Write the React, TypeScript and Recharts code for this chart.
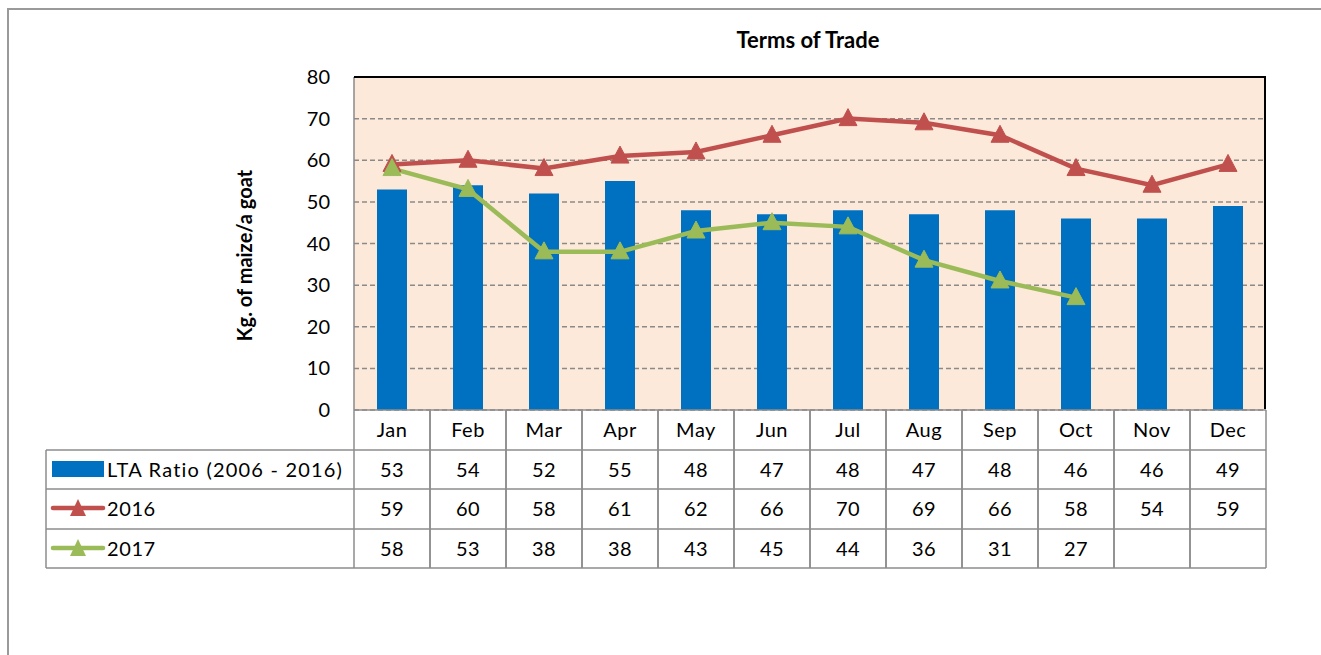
import React from 'react';
import { ComposedChart, Bar, Line, XAxis, YAxis, CartesianGrid } from 'recharts';

const months = ['Jan', 'Feb', 'Mar', 'Apr', 'May', 'Jun', 'Jul', 'Aug', 'Sep', 'Oct', 'Nov', 'Dec'];
const lta = [53, 54, 52, 55, 48, 47, 48, 47, 48, 46, 46, 49];
const y2016 = [59, 60, 58, 61, 62, 66, 70, 69, 66, 58, 54, 59];
const y2017: (number | null)[] = [58, 53, 38, 38, 43, 45, 44, 36, 31, 27, null, null];
const yTicks = [0, 10, 20, 30, 40, 50, 60, 70, 80];

const seriesNames = ['LTA Ratio (2006 - 2016)', '2016', '2017'];
const BLUE = '#0070C0';
const RED = '#C0504D';
const GREEN = '#9BBB59';
const FONT = 'Lato, "Open Sans", sans-serif';

const data = months.map((m, i) => ({ month: m, lta: lta[i], y2016: y2016[i], y2017: y2017[i] }));

const W = 1321;
const H = 655;
const PLOT_L = 354;
const PLOT_R = 1266;
const PLOT_T = 77;
const PLOT_B = 410;
const COL_W = (PLOT_R - PLOT_L) / months.length;
const LEG_L = 46;
const ROWS = [410, 450, 489, 529, 568];
const GRID = '#8c8c8c';
const TXT = 20;

const Triangle = (color: string) => (props: any) => {
  const { cx, cy, value } = props;
  if (value == null || cx == null || cy == null) return <g key={props.key} />;
  return (
    <path key={props.key} d={`M${cx},${cy - 10} L${cx + 9},${cy + 7} L${cx - 9},${cy + 7} Z`} fill={color} stroke={color} />
  );
};

const TableTick = (props: any) => {
  const { x, y, payload } = props;
  const i = payload.index;
  const left = x - COL_W / 2;
  const right = x + COL_W / 2;
  const rowMid = (r: number) => (ROWS[r] + ROWS[r + 1]) / 2 + 7;
  const vals = [lta[i], y2016[i], y2017[i]];
  const top = y;
  return (
    <g>
      <line x1={left} x2={left} y1={top} y2={ROWS[4]} stroke={GRID} strokeWidth={1.5} />
      <line x1={right} x2={right} y1={top} y2={ROWS[4]} stroke={GRID} strokeWidth={1.5} />
      {ROWS.map((r, k) => (
        <line key={k} x1={left} x2={right} y1={k === 0 ? top : r} y2={k === 0 ? top : r} stroke={GRID} strokeWidth={1.5} />
      ))}
      <text x={x} y={rowMid(0)} textAnchor="middle" fontSize={TXT} fontFamily={FONT} fill="#000" letterSpacing={0.5}>{payload.value}</text>
      {vals.map((v, k) => (
        <text key={k} x={x} y={rowMid(k + 1)} textAnchor="middle" fontSize={TXT} fontFamily={FONT} fill="#000" letterSpacing={0.5}>
          {v == null ? '' : v}
        </text>
      ))}
      {i === 0 && (
        <g>
          <line x1={LEG_L} x2={left} y1={ROWS[1]} y2={ROWS[1]} stroke={GRID} strokeWidth={1.5} />
          <line x1={LEG_L} x2={left} y1={ROWS[2]} y2={ROWS[2]} stroke={GRID} strokeWidth={1.5} />
          <line x1={LEG_L} x2={left} y1={ROWS[3]} y2={ROWS[3]} stroke={GRID} strokeWidth={1.5} />
          <line x1={LEG_L} x2={left} y1={ROWS[4]} y2={ROWS[4]} stroke={GRID} strokeWidth={1.5} />
          <line x1={LEG_L} x2={LEG_L} y1={ROWS[1]} y2={ROWS[4]} stroke={GRID} strokeWidth={1.5} />
          <rect x={52} y={461} width={52} height={16} fill={BLUE} />
          <line x1={53} x2={103} y1={508} y2={508} stroke={RED} strokeWidth={4.5} strokeLinecap="round" />
          <path d={`M78,499 L86,516 L70,516 Z`} fill={RED} />
          <line x1={53} x2={103} y1={548} y2={548} stroke={GREEN} strokeWidth={4.5} strokeLinecap="round" />
          <path d={`M78,539 L86,556 L70,556 Z`} fill={GREEN} />
          {seriesNames.map((s, k) => (
            <text key={k} x={107} y={rowMid(k + 1)} fontSize={TXT} fontFamily={FONT} fill="#000" letterSpacing={k === 0 ? 1.2 : 0.6}>{s}</text>
          ))}
        </g>
      )}
    </g>
  );
};

const LABEL_CY = PLOT_T + (PLOT_B - PLOT_T) / 2 + 12;
const YLabel = () => (
  <text
    x={252}
    y={LABEL_CY}
    transform={`rotate(-90, 252, ${LABEL_CY})`}
    textAnchor="middle"
    fontSize={20}
    fontWeight="bold"
    fontFamily={FONT}
    fill="#000"
  >
    Kg. of maize/a goat
  </text>
);

export default function App() {
  return (
    <div style={{ position: 'absolute', left: 0, top: 0, width: W, height: H, background: '#fff', overflow: 'hidden' }}>
      <div style={{ position: 'absolute', left: 7, top: 8, width: W, height: H, borderTop: '2px solid #9a9a9a', borderLeft: '2px solid #9a9a9a' }} />
      <div style={{ position: 'absolute', left: 0, top: 27, width: 1616, textAlign: 'center', fontFamily: FONT, fontWeight: 'bold', fontSize: 22, lineHeight: '26px', color: '#000' }}>
        Terms of Trade
      </div>
      <div style={{ position: 'absolute', left: 0, top: 0 }}>
        <ComposedChart
          width={W}
          height={H}
          data={data}
          margin={{ top: PLOT_T, right: W - PLOT_R, bottom: 0, left: PLOT_L - 40 }}
        >
          <CartesianGrid vertical={false} fill="#FDE9D9" stroke="#8a8a8a" strokeDasharray="5 3" strokeWidth={1.5} />
          <XAxis dataKey="month" height={H - PLOT_B} tickSize={0} tickMargin={0} axisLine={false} tickLine={false} tick={(p: any) => <TableTick {...p} />} interval={0} />
          <YAxis
            width={40}
            domain={[0, 80]}
            ticks={yTicks}
            interval={0}
            tickSize={0}
            tickMargin={24}
            axisLine={{ stroke: '#8a8a8a', strokeWidth: 1.5 }}
            tickLine={false}
            tick={{ fontSize: TXT, fontFamily: FONT, fill: '#000' }}
            label={<YLabel />}
          />
          <Bar dataKey="lta" fill={BLUE} barSize={30} isAnimationActive={false} />
          <Line dataKey="y2016" stroke={RED} strokeWidth={4.5} dot={Triangle(RED)} activeDot={false} isAnimationActive={false} />
          <Line dataKey="y2017" stroke={GREEN} strokeWidth={4.5} dot={Triangle(GREEN)} activeDot={false} isAnimationActive={false} connectNulls={false} />
        </ComposedChart>
      </div>
      <div style={{ position: 'absolute', left: PLOT_L, top: PLOT_T - 1, width: PLOT_R - PLOT_L, height: PLOT_B - PLOT_T, borderTop: '2px solid #000', borderRight: '2px solid #000', pointerEvents: 'none', boxSizing: 'border-box' }} />
    </div>
  );
}
